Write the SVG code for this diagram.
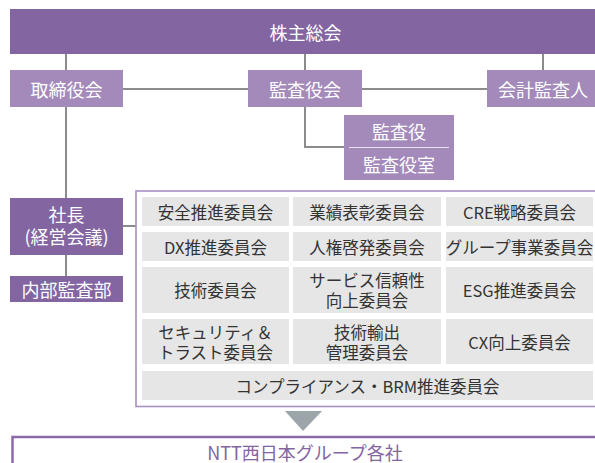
<svg xmlns="http://www.w3.org/2000/svg" width="595" height="463" viewBox="0 0 595 463">
<style>
text{font-family:"Noto Sans CJK JP","Noto Sans",sans-serif;text-anchor:middle;dominant-baseline:central}
.dk{fill:#8365a2}
.lt{fill:#a38abb}
.wt{fill:#ffffff;font-size:18px}
.cell{fill:#e6e6e6}
.ct{fill:#333333;font-size:16.5px}
.ln{stroke:#8c8c8c;stroke-width:2;fill:none}
</style>
<rect width="595" height="463" fill="#ffffff"/>
<g id="connectors">
<line class="ln" x1="66" y1="54" x2="66" y2="276"/>
<line class="ln" x1="305" y1="54" x2="305" y2="70"/>
<line class="ln" x1="543" y1="54" x2="543" y2="70"/>
<line class="ln" x1="123" y1="89" x2="487" y2="89"/>
<polyline class="ln" points="305,107 305,147 344,147"/>
<line class="ln" x1="123" y1="226" x2="136" y2="226"/>
<polygon points="285,411 322,411 303,431" fill="#9ba5aa"/>
</g>
<g id="shareholders"><rect class="dk" x="10" y="9" width="585" height="45"/><text class="wt" x="305.5" y="31.5">株主総会</text></g>
<g id="board"><rect class="lt" x="10" y="70" width="113" height="37"/><text class="wt" x="66.5" y="88.5">取締役会</text></g>
<g id="audit-board"><rect class="lt" x="248" y="70" width="114" height="37"/><text class="wt" x="305" y="88.5">監査役会</text></g>
<g id="accounting-auditor"><rect class="lt" x="487" y="70" width="108" height="37"/><text class="wt" x="543" y="88.5">会計監査人</text></g>
<g id="auditors"><rect class="lt" x="344" y="115" width="110" height="65"/><line x1="349" y1="147.5" x2="449" y2="147.5" stroke="#e8e0ef" stroke-width="1"/><text class="wt" x="399" y="131">監査役</text><text class="wt" x="399" y="163.5">監査役室</text></g>
<g id="president"><rect class="dk" x="10" y="198" width="113" height="57"/><text class="wt" x="66.5" y="213.5">社長</text><text class="wt" x="66.5" y="235.5">(経営会議)</text></g>
<g id="internal-audit"><rect class="dk" x="10" y="276" width="113" height="26"/><text class="wt" x="66.5" y="289">内部監査部</text></g>
<g id="committees">
<rect x="136" y="191" width="470" height="215.5" fill="none" stroke="#a890c0" stroke-width="1.6"/>
<rect class="cell" x="142" y="197" width="147" height="29"/><text class="ct" x="215.5" y="211.5">安全推進委員会</text>
<rect class="cell" x="293" y="197" width="148" height="29"/><text class="ct" x="367" y="211.5">業績表彰委員会</text>
<rect class="cell" x="446" y="197" width="147" height="29"/><text class="ct" x="519.5" y="211.5">CRE戦略委員会</text>
<rect class="cell" x="142" y="232" width="147" height="29"/><text class="ct" x="215.5" y="246.5">DX推進委員会</text>
<rect class="cell" x="293" y="232" width="148" height="29"/><text class="ct" x="367" y="246.5">人権啓発委員会</text>
<rect class="cell" x="446" y="232" width="147" height="29"/><text class="ct" x="519.5" y="246.5">グループ事業委員会</text>
<rect class="cell" x="142" y="267" width="147" height="46"/><text class="ct" x="215.5" y="290">技術委員会</text>
<rect class="cell" x="293" y="267" width="148" height="46"/><text class="ct" x="367" y="280">サービス信頼性</text><text class="ct" x="367" y="299.5">向上委員会</text>
<rect class="cell" x="446" y="267" width="147" height="46"/><text class="ct" x="519.5" y="290">ESG推進委員会</text>
<rect class="cell" x="142" y="319" width="147" height="45"/><text class="ct" x="215.5" y="332">セキュリティ＆</text><text class="ct" x="215.5" y="351.5">トラスト委員会</text>
<rect class="cell" x="293" y="319" width="148" height="45"/><text class="ct" x="367" y="332">技術輸出</text><text class="ct" x="367" y="351.5">管理委員会</text>
<rect class="cell" x="446" y="319" width="147" height="45"/><text class="ct" x="519.5" y="341.5">CX向上委員会</text>
<rect class="cell" x="142" y="371" width="451" height="29"/><text class="ct" x="367.5" y="385.5">コンプライアンス・BRM推進委員会</text>
</g>
<g id="group-companies"><rect x="12.5" y="437" width="600" height="40" fill="none" stroke="#8a6aa8" stroke-width="2.5"/><text x="305" y="451.5" style="fill:#8365a2;font-size:18px">NTT西日本グループ各社</text></g>
</svg>
